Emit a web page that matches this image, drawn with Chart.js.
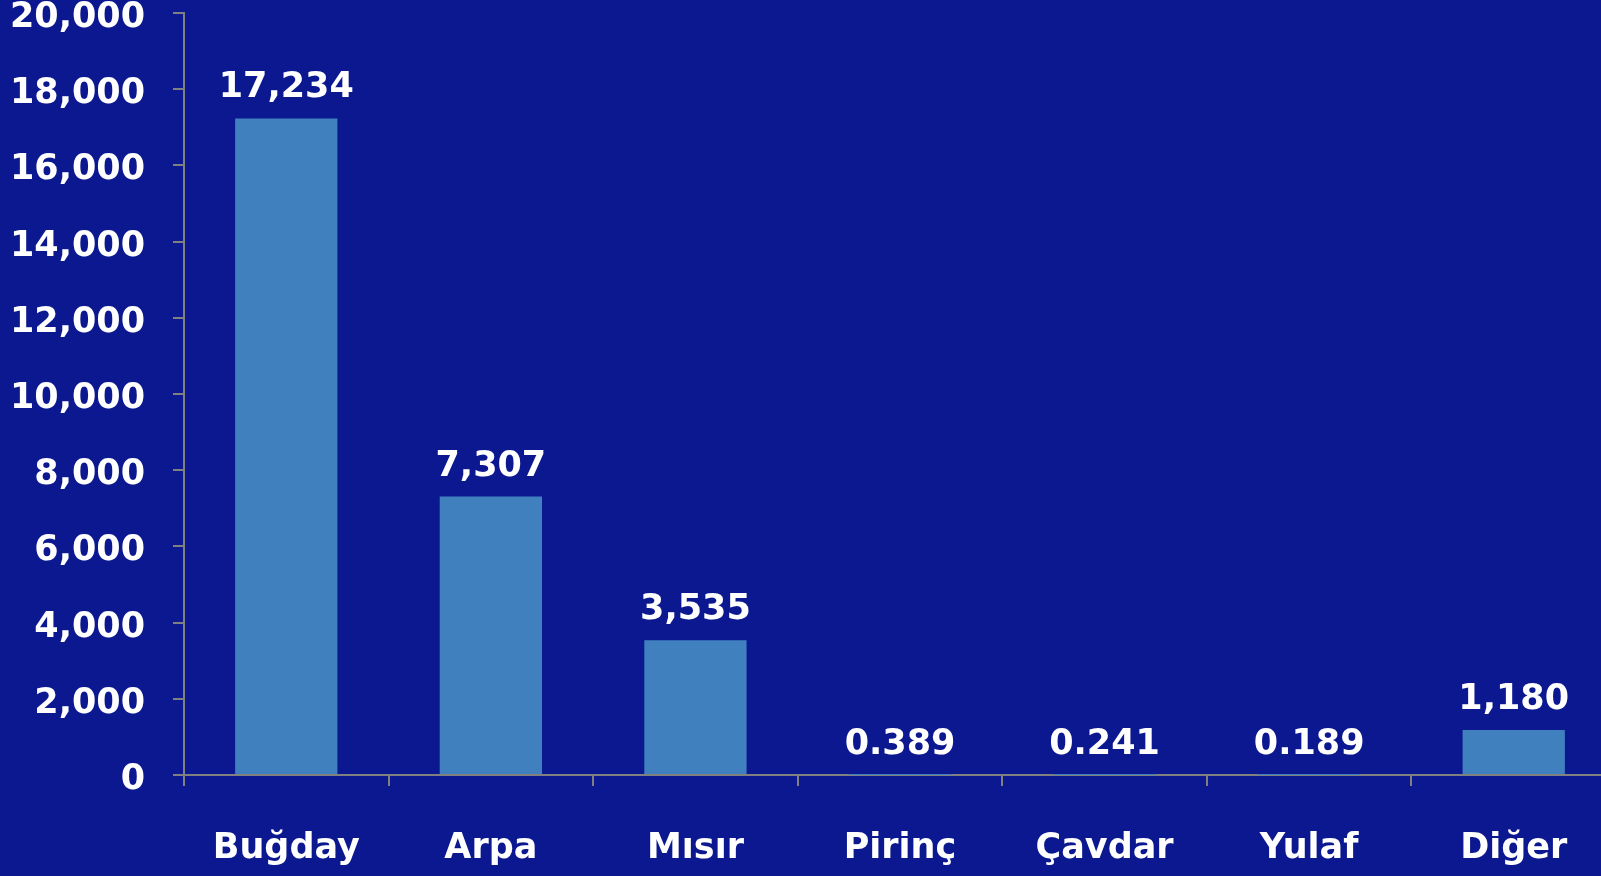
<!DOCTYPE html>
<html>
<head>
<meta charset="utf-8">
<script src="https://cdn.jsdelivr.net/npm/chart.js@4/dist/chart.umd.min.js"></script>
<style>
  html, body { margin: 0; padding: 0; background: #0c1890; overflow: hidden; }
  #wrap { width: 1616px; height: 876px; position: relative; }
</style>
</head>
<body>
<div id="wrap"><canvas id="c"></canvas></div>
<script>
const categories = ['Buğday', 'Arpa', 'Mısır', 'Pirinç', 'Çavdar', 'Yulaf', 'Diğer'];
const values = [17234, 7307, 3535, 0.389, 0.241, 0.189, 1180];
const valueLabels = ['17,234', '7,307', '3,535', '0.389', '0.241', '0.189', '1,180'];
const yMin = 0;
const yMax = 20000;
const yStep = 2000;

const FONT = '"DejaVu Sans", sans-serif';
const AXIS = '#808080';

const valueLabelPlugin = {
  id: 'valueLabels',
  afterDatasetsDraw(chart) {
    const ctx = chart.ctx;
    const meta = chart.getDatasetMeta(0);
    ctx.save();
    ctx.fillStyle = '#ffffff';
    ctx.font = 'bold 35px ' + FONT;
    ctx.textAlign = 'center';
    ctx.textBaseline = 'alphabetic';
    meta.data.forEach((bar, i) => {
      ctx.fillText(valueLabels[i], bar.x, bar.y - 21);
    });
    ctx.restore();
  }
};

new Chart(document.getElementById('c'), {
  type: 'bar',
  data: {
    labels: categories,
    datasets: [{
      data: values,
      backgroundColor: '#4080bf',
      borderWidth: 0,
      barPercentage: 0.5,
      categoryPercentage: 1.0
    }]
  },
  options: {
    responsive: true,
    maintainAspectRatio: false,
    animation: false,
    devicePixelRatio: 1,
    layout: { padding: { top: 13, right: 0, bottom: 0, left: 0 } },
    plugins: { legend: { display: false }, tooltip: { enabled: false } },
    scales: {
      x: {
        offset: true,
        grid: {
          offset: true,
          drawOnChartArea: false,
          drawTicks: true,
          tickLength: 11,
          color: AXIS,
          lineWidth: 2
        },
        border: { display: true, color: AXIS, width: 2 },
        ticks: {
          color: '#ffffff',
          font: { family: FONT, size: 35, weight: 'bold', lineHeight: 1.2 },
          padding: 42,
          maxRotation: 0,
          autoSkip: false
        },
        afterFit(s) { s.height = 101; s.paddingLeft = 0; s.paddingRight = 0; }
      },
      y: {
        min: yMin,
        max: yMax,
        grid: {
          drawOnChartArea: false,
          drawTicks: true,
          tickLength: 11,
          color: AXIS,
          lineWidth: 2
        },
        border: { display: true, color: AXIS, width: 2 },
        ticks: {
          stepSize: yStep,
          color: '#ffffff',
          font: { family: FONT, size: 35, weight: 'bold', lineHeight: 0.6 },
          padding: 28,
          labelOffset: 5,
          callback: (v) => Number(v).toLocaleString('en-US')
        },
        afterFit(s) { s.width = 184; s.paddingTop = 0; s.paddingBottom = 0; }
      }
    }
  },
  plugins: [valueLabelPlugin]
});
</script>
</body>
</html>
